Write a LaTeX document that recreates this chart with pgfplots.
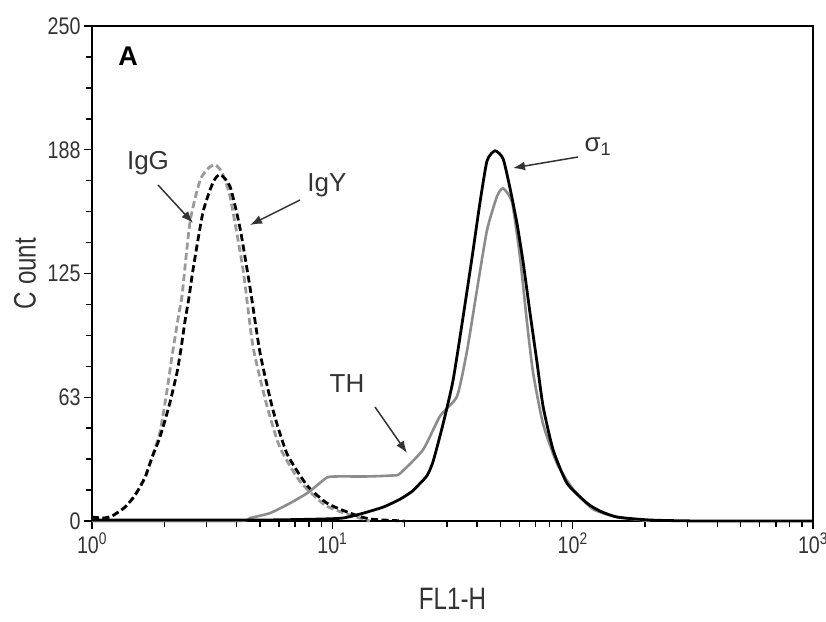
\documentclass[border=0pt]{standalone}
\usepackage{fontspec}
\setmainfont{Liberation Sans}
\usepackage{graphicx}
\usepackage{pgfplots}
\pgfplotsset{compat=1.18}
\usetikzlibrary{arrows.meta}
\definecolor{lgray}{HTML}{9A9A9A}
\definecolor{mgray}{HTML}{8C8C8C}
\definecolor{txt}{HTML}{333333}
\newcommand{\tk}[1]{\scalebox{0.82}[1]{#1}}
\newcommand{\lb}[1]{\scalebox{0.78}[1]{#1}}
\begin{document}
\begin{tikzpicture}
\begin{axis}[
  scale only axis, width=721pt, height=495pt,
  xmode=log, xmin=1, xmax=1000, ymin=0, ymax=250,
  xtick={1,10,100,1000},
  xticklabels={\tk{10\textsuperscript{0}},\tk{10\textsuperscript{1}},\tk{10\textsuperscript{2}},\tk{10\textsuperscript{3}}},
  minor xtick={2,3,4,5,6,7,8,9,20,30,40,50,60,70,80,90,200,300,400,500,600,700,800,900},
  ytick={0,62.5,125,187.5,250},
  yticklabels={\tk{0},\tk{63},\tk{125},\tk{188},\tk{250}},
  minor ytick={15.625,31.25,46.875,78.125,93.75,109.375,140.625,156.25,171.875,203.125,218.75,234.375},
  tick align=outside, xtick pos=left, ytick pos=left,
  major tick length=8pt, minor tick length=6pt,
  every tick/.style={black, line width=1.5pt},
  axis line style={black, line width=1.8pt},
  ticklabel style={font=\fontsize{24}{28}\selectfont, text=txt},
  xlabel={\lb{FL1-H}}, ylabel={\lb{C ount}},
  label style={font=\fontsize{31}{36}\selectfont, text=txt},
  xlabel style={at={(axis description cs:0.5,-0.158)}, anchor=center},
  ylabel style={at={(axis description cs:-0.093,0.5)}, anchor=center},
  clip=false,
  every axis plot/.append style={smooth, tension=0.35, line join=round},
]
% IgG (gray dashed)
\addplot[lgray, line width=2.8pt, dash pattern=on 7pt off 3.5pt] coordinates {
(1,0.5) (1.211,2.5) (1.372,7) (1.510,13) (1.662,22) (1.776,32) (1.919,45) (2.052,66) (2.151,83) (2.301,105) (2.370,114) (2.557,151) (2.814,172) (3.039,178) (3.251,180) (3.475,176) (3.752,164) (4.251,127) (4.677,88) (5.349,58) (6.059,37) (7.338,20) (9.324,8) (11.85,3) (14.35,0)
};
% IgY (black dashed)
\addplot[black, line width=2.8pt, dash pattern=on 7pt off 3.5pt] coordinates {
(1,2) (1.12,1.5) (1.211,2.5) (1.372,7) (1.510,13) (1.662,22) (1.776,32) (1.900,41) (1.993,49) (2.112,60) (2.258,75) (2.346,87) (2.438,101) (2.533,113) (2.633,127) (2.896,156) (3.188,171) (3.41,175) (3.752,169) (4.129,148) (4.544,118) (5.002,85) (5.665,56) (6.478,34) (7.847,18) (9.504,9) (11.85,4) (14.35,1) (20,0)
};
% TH (gray solid)
\addplot[mgray, line width=2.6pt] coordinates {
(1,0) (4,0) (4.544,1.5) (5.504,4) (6.668,9) (7.847,14) (8.636,18) (9.504,22) (10.46,22.5) (13.95,22.5) (17.89,23) (19.13,24) (23.85,36) (28.07,53) (33.03,63) (36.35,86) (40.01,117) (44.04,147) (48.45,164) (51.33,168) (55.94,161) (60.41,133) (64.60,100) (68.42,75) (75.31,49) (86.11,29) (100.4,16) (121.6,6) (153.0,2) (209.9,0)
};
% sigma1 (black solid)
\addplot[black, line width=2.8pt] coordinates {
(1,0.5) (5,0.5) (9,1) (11.08,1.5) (13.04,3.5) (16.26,7) (19.13,11) (21.5,15) (23.17,19) (24.8,23) (26.25,30) (28.89,49) (31.79,71) (34.99,103) (38.13,133) (41.17,161) (44.04,182) (47.54,187) (51.33,183) (54.89,168) (58.71,150) (62.17,131) (66.48,105) (71.08,80) (75.31,58) (82.89,36) (94.78,19) (114.8,9) (130,5) (153.0,2) (209.9,0.5) (339,0) (1000,0)
};
\end{axis}
\begin{scope}[txt, line width=1.5pt, -{Latex[length=12pt,width=9pt]}]
\draw (66pt,336pt) -- (101pt,298pt);
\draw (208pt,321pt) -- (158pt,296pt);
\draw (486pt,364pt) -- (421pt,353pt);
\draw (283pt,114pt) -- (315pt,68pt);
\end{scope}
\begin{scope}[font=\fontsize{26}{30}\selectfont, text=txt]
\node at (56pt,358pt) {IgG};
\node at (235pt,336pt) {IgY};
\node at (506pt,374pt) {σ\textsubscript{1}};
\node at (255pt,137pt) {TH};
\node[text=black, font=\fontsize{27}{30}\selectfont\bfseries] at (36pt,465pt) {A};
\end{scope}
\pgfresetboundingbox
\path (-92pt,-100pt) rectangle (734pt,521pt);
\end{tikzpicture}
\end{document}
